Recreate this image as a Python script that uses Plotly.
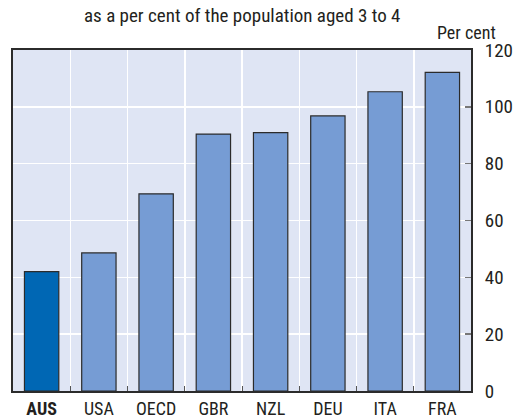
import plotly.graph_objects as go

categories = ["AUS", "USA", "OECD", "GBR", "NZL", "DEU", "ITA", "FRA"]
values = [42.0, 48.6, 69.4, 90.4, 90.9, 96.8, 105.3, 112.1]
tick_labels = ["<b>AUS</b>", "USA", "OECD", "GBR", "NZL", "DEU", "ITA", "FRA"]
y_ticks = [0, 20, 40, 60, 80, 100, 120]

FONT = "Liberation Sans Narrow, Roboto Condensed, Arial Narrow, sans-serif"
colors = ["#0067b4" if c == "AUS" else "#769cd4" for c in categories]
xs = list(range(len(categories)))

fig = go.Figure()
fig.add_trace(go.Bar(
    x=xs, y=values,
    marker=dict(color=colors, line=dict(color="#2b2b2b", width=1.2)),
    width=0.6,
    hoverinfo="skip",
))

fig.update_layout(
    width=514, height=419,
    margin=dict(l=13, r=43, t=50, b=28),
    paper_bgcolor="white",
    plot_bgcolor="#dfe5f4",
    showlegend=False,
    font=dict(family=FONT, size=18, color="#231f20"),
    xaxis=dict(
        range=[-0.5, len(categories) - 0.5],
        tickvals=xs, ticktext=tick_labels,
        showgrid=False, ticks="",
        showline=True, linecolor="#2b2b2b", linewidth=2, mirror=True,
        zeroline=False, automargin=False,
        ticklabelstandoff=0,
        tickfont=dict(size=18),
        minor=dict(
            tickvals=[i - 0.5 for i in range(1, len(categories))],
            showgrid=True, gridcolor="white", gridwidth=1.5,
            ticks="inside", ticklen=5, tickcolor="#555555", tickwidth=1,
        ),
    ),
    yaxis=dict(
        side="right",
        range=[0, 120],
        tickvals=y_ticks,
        showgrid=True, gridcolor="white", gridwidth=1.5,
        ticks="inside", ticklen=6, tickcolor="#777777", tickwidth=1.5,
        showline=True, linecolor="#2b2b2b", linewidth=2, mirror=True,
        zeroline=False, automargin=False,
        ticklabelstandoff=8,
        tickfont=dict(size=19),
    ),
    annotations=[
        dict(text="as a per cent of the population aged 3 to 4",
             xref="paper", yref="paper", x=0.5, y=1.0, yshift=35,
             showarrow=False, xanchor="center", yanchor="middle",
             font=dict(size=19)),
        dict(text="Per cent",
             xref="paper", yref="paper", x=1.0, xshift=27, y=1.0, yshift=18,
             showarrow=False, xanchor="right", yanchor="middle",
             font=dict(size=18)),
    ],
)

fig.write_html(
    "out.html",
    config={"displayModeBar": False, "staticPlot": True},
    post_script="document.body.style.margin='0';document.body.style.overflow='hidden';",
)
